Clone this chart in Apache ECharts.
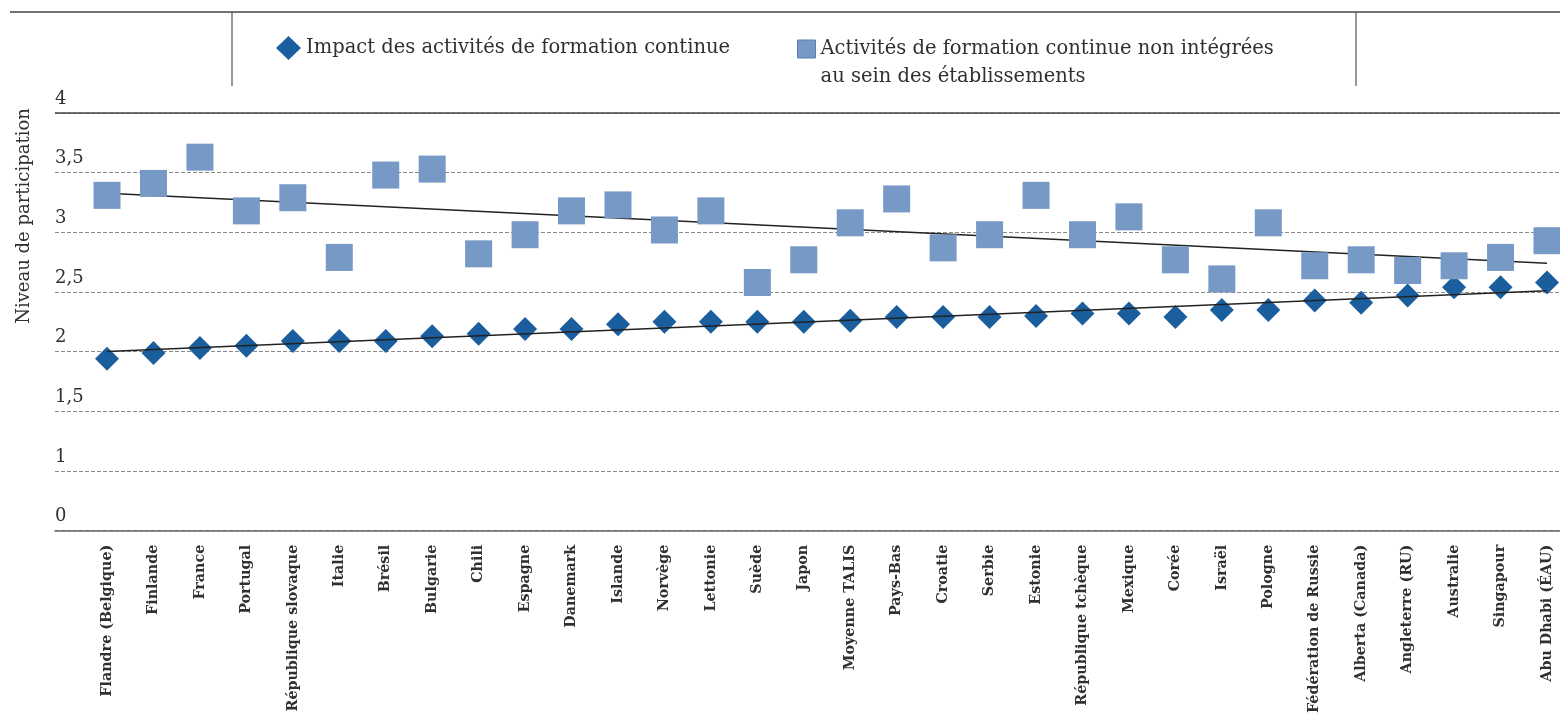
<!DOCTYPE html>
<html>
<head>
<meta charset="utf-8">
<script src="https://cdn.jsdelivr.net/npm/echarts@6/dist/echarts.min.js"></script>
<style>
  html, body { margin: 0; padding: 0; background: #ffffff; }
  #chart { width: 1560px; height: 716px; }
</style>
</head>
<body>
<div id="chart"></div>
<script>
// Countries / economies, ordered by the impact score
const categories = [
  'Flandre (Belgique)', 'Finlande', 'France', 'Portugal', 'République slovaque',
  'Italie', 'Brésil', 'Bulgarie', 'Chili', 'Espagne', 'Danemark', 'Islande',
  'Norvège', 'Lettonie', 'Suède', 'Japon', 'Moyenne TALIS', 'Pays-Bas', 'Croatie',
  'Serbie', 'Estonie', 'République tchèque', 'Mexique', 'Corée', 'Israël',
  'Pologne', 'Fédération de Russie', 'Alberta (Canada)', 'Angleterre (RU)',
  'Australie', 'Singapour', 'Abu Dhabi (ÉAU)'
];

// Impact des activités de formation continue
const impactValues = [
  1.94, 1.99, 2.03, 2.05, 2.09, 2.09, 2.09, 2.13, 2.15, 2.19, 2.19, 2.23,
  2.25, 2.25, 2.25, 2.25, 2.26, 2.29, 2.29, 2.29, 2.30, 2.32, 2.32, 2.29,
  2.35, 2.35, 2.43, 2.41, 2.47, 2.54, 2.54, 2.58
];

// Activités de formation continue non intégrées au sein des établissements
const nonIntegratedValues = [
  3.31, 3.41, 3.63, 3.18, 3.29, 2.79, 3.48, 3.53, 2.82, 2.98, 3.18, 3.23,
  3.02, 3.18, 2.58, 2.77, 3.08, 3.28, 2.87, 2.98, 3.31, 2.98, 3.13, 2.77,
  2.61, 3.08, 2.72, 2.77, 2.68, 2.72, 2.79, 2.93
];

// Y axis: ticks every 0.5; the lowest tick carries the label "0"
const yTickValues = [0.5, 1, 1.5, 2, 2.5, 3, 3.5, 4];
const yTickLabels = ['0', '1', '1,5', '2', '2,5', '3', '3,5', '4'];

const impactName = 'Impact des activités de formation continue';
const nonIntegratedName = 'Activités de formation continue non intégrées\nau sein des établissements';

const DIAMOND = '#1b5e9e';
const SQUARE = '#7699c5';
const TEXT = '#303030';
const SERIF = '"DejaVu Serif", "Liberation Serif", serif';

// Least-squares linear trend over the category index
function trendLine(values) {
  const n = values.length;
  let sx = 0, sy = 0, sxx = 0, sxy = 0;
  values.forEach((v, i) => { sx += i; sy += v; sxx += i * i; sxy += i * v; });
  const slope = (n * sxy - sx * sy) / (n * sxx - sx * sx);
  const intercept = (sy - slope * sx) / n;
  return [[0, intercept], [n - 1, intercept + slope * (n - 1)]];
}

const indexOf = categories.map((_, i) => i);

const chart = echarts.init(document.getElementById('chart'), null, { renderer: 'canvas' });

chart.setOption({
  backgroundColor: '#ffffff',
  animation: false,
  grid: { left: 55, right: 0, top: 113, bottom: 184, containLabel: false },
  legend: [
    {
      left: 276, top: 36, padding: 0,
      itemWidth: 25, itemHeight: 24,
      data: [{ name: impactName, icon: 'diamond' }],
      textStyle: { fontFamily: SERIF, fontSize: 19.5, color: TEXT }
    },
    {
      // a leading blank line keeps the icon level with the first text line
      left: 797, top: 7, padding: 0,
      itemWidth: 18, itemHeight: 18,
      data: [{ name: nonIntegratedName, icon: 'rect', itemStyle: { borderColor: '#5b7fae', borderWidth: 1 } }],
      formatter: name => '\n' + name,
      textStyle: { fontFamily: SERIF, fontSize: 19.5, color: TEXT, lineHeight: 28 }
    }
  ],
  xAxis: {
    type: 'value',
    min: -1.12,
    max: 31.28,
    splitLine: { show: false },
    axisTick: { show: false },
    axisLine: { show: true, onZero: false, lineStyle: { color: '#666666', width: 1.5 } },
    axisLabel: {
      customValues: indexOf,
      rotate: 90,
      margin: 14,
      fontFamily: SERIF,
      fontWeight: 'bold',
      fontSize: 14.3,
      color: TEXT,
      formatter: v => categories[Math.round(v)] || ''
    }
  },
  yAxis: {
    type: 'value',
    min: 0.5,
    max: 4,
    interval: 0.5,
    axisLine: { show: false },
    axisTick: { show: false },
    splitLine: { show: true, lineStyle: { color: '#8a8a8a', width: 1, type: [4, 2] } },
    axisLabel: {
      inside: true,
      margin: 0,
      align: 'left',
      verticalAlign: 'bottom',
      padding: [0, 0, 5, 0],
      fontFamily: SERIF,
      fontSize: 18,
      color: TEXT,
      formatter: v => {
        const k = yTickValues.findIndex(t => Math.abs(t - v) < 1e-9);
        return k >= 0 ? yTickLabels[k] : '';
      }
    }
  },
  graphic: [
    { type: 'line', shape: { x1: 10, y1: 12, x2: 1560, y2: 12 }, style: { stroke: '#444444', lineWidth: 1.5 }, silent: true },
    { type: 'line', shape: { x1: 232, y1: 12, x2: 232, y2: 86 }, style: { stroke: '#555555', lineWidth: 1.2 }, silent: true },
    { type: 'line', shape: { x1: 1356, y1: 12, x2: 1356, y2: 86 }, style: { stroke: '#555555', lineWidth: 1.2 }, silent: true },
    {
      type: 'text', x: 24, y: 216, rotation: Math.PI / 2, silent: true,
      style: { text: 'Niveau de participation', fontFamily: SERIF, fontSize: 18, fill: TEXT, align: 'center', verticalAlign: 'middle' }
    }
  ],
  series: [
    {
      name: impactName,
      type: 'scatter',
      symbol: 'diamond',
      symbolSize: 24,
      z: 2,
      itemStyle: { color: DIAMOND, opacity: 1 },
      data: impactValues.map((v, i) => [i, v]),
      markLine: {
        silent: true,
        symbol: 'none',
        label: { show: false },
        lineStyle: { color: '#444444', type: 'solid', width: 1.5 },
        data: [{ yAxis: 4 }]
      }
    },
    {
      name: 'trend-impact',
      type: 'line',
      z: 3,
      symbol: 'none',
      lineStyle: { color: '#222222', width: 1.5 },
      data: trendLine(impactValues)
    },
    {
      name: 'trend-non-integrated',
      type: 'line',
      z: 3,
      symbol: 'none',
      lineStyle: { color: '#222222', width: 1.5 },
      data: trendLine(nonIntegratedValues)
    },
    {
      name: nonIntegratedName,
      type: 'scatter',
      symbol: 'rect',
      symbolSize: 27,
      z: 4,
      itemStyle: { color: SQUARE, opacity: 1 },
      data: nonIntegratedValues.map((v, i) => [i, v])
    }
  ]
});
</script>
</body>
</html>
